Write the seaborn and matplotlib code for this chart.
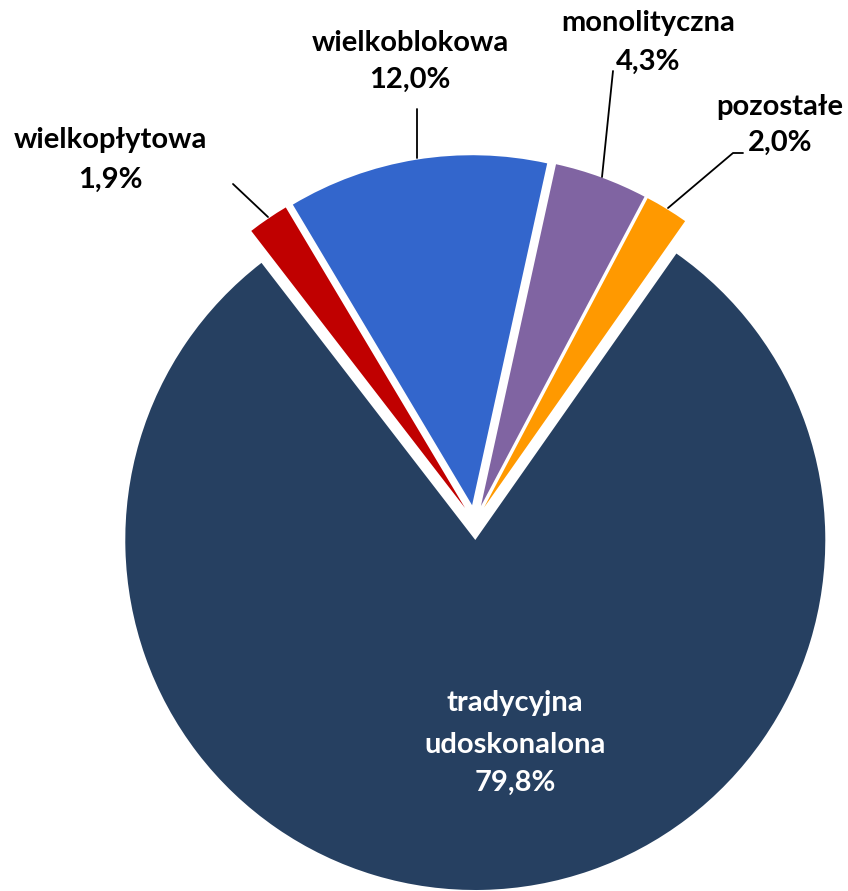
import matplotlib
matplotlib.use("Agg")
import matplotlib.pyplot as plt
import seaborn as sns

sns.set_theme(style="white")
plt.rcParams['font.family'] = ['Lato', 'DejaVu Sans']

categories = ["wielkopłytowa", "wielkoblokowa", "monolityczna", "pozostałe", "tradycyjna\nudoskonalona"]
values = [1.9, 12.0, 4.3, 2.0, 79.8]
value_labels = ["1,9%", "12,0%", "4,3%", "2,0%", "79,8%"]
colors = ["#C00000", "#3366CC", "#8064A2", "#FF9900", "#264061"]

W, H = 848, 891
fig = plt.figure(figsize=(W / 100, H / 100), dpi=100)
ax = fig.add_axes([0, 0, 1, 1])

R = 350
center = (474.9, H - 522.5)
# explode fraction of radius (matplotlib applies it in data units, so scale by R)
explode_frac = [0.05, 0.05, 0.05, 0.05, 0.05]
explode = [e * R for e in explode_frac]

wedges, _ = ax.pie(values, colors=colors, explode=explode, startangle=127.65,
                   counterclock=False, radius=R, center=center,
                   wedgeprops=dict(edgecolor="none", linewidth=0))
ax.set_xlim(0, W)
ax.set_ylim(0, H)
ax.set_aspect("equal")
ax.axis("off")

fs = 21
def Y(y):
    return H - y

# outside labels (name, value) with positions in image pixels
outside = [
    (0, 110, 140, 180),
    (1, 410, 43, 80),
    (2, 648, 23, 62),
    (3, 780, 107, 143),
]
for i, x, y1, y2 in outside:
    ax.text(x, Y(y1), categories[i], ha="center", va="center", fontsize=fs,
            fontweight="bold", color="black")
    ax.text(x, Y(y2), value_labels[i], ha="center", va="center", fontsize=fs,
            fontweight="bold", color="black")

# leader lines
lw = 1.3
ax.plot([233, 268], [Y(184), Y(217)], color="black", lw=lw)
ax.plot([417, 417], [Y(109), Y(158)], color="black", lw=lw)
ax.plot([613, 602], [Y(71), Y(177)], color="black", lw=lw)
ax.plot([743, 733, 668], [Y(153), Y(153), Y(208)], color="black", lw=lw)

# inside label
ax.text(515, Y(703), "tradycyjna", ha="center", va="center", fontsize=fs,
        fontweight="bold", color="white")
ax.text(515, Y(745), "udoskonalona", ha="center", va="center", fontsize=fs,
        fontweight="bold", color="white")
ax.text(515, Y(783), value_labels[4], ha="center", va="center", fontsize=fs,
        fontweight="bold", color="white")

fig.savefig("out.png", dpi=100)
